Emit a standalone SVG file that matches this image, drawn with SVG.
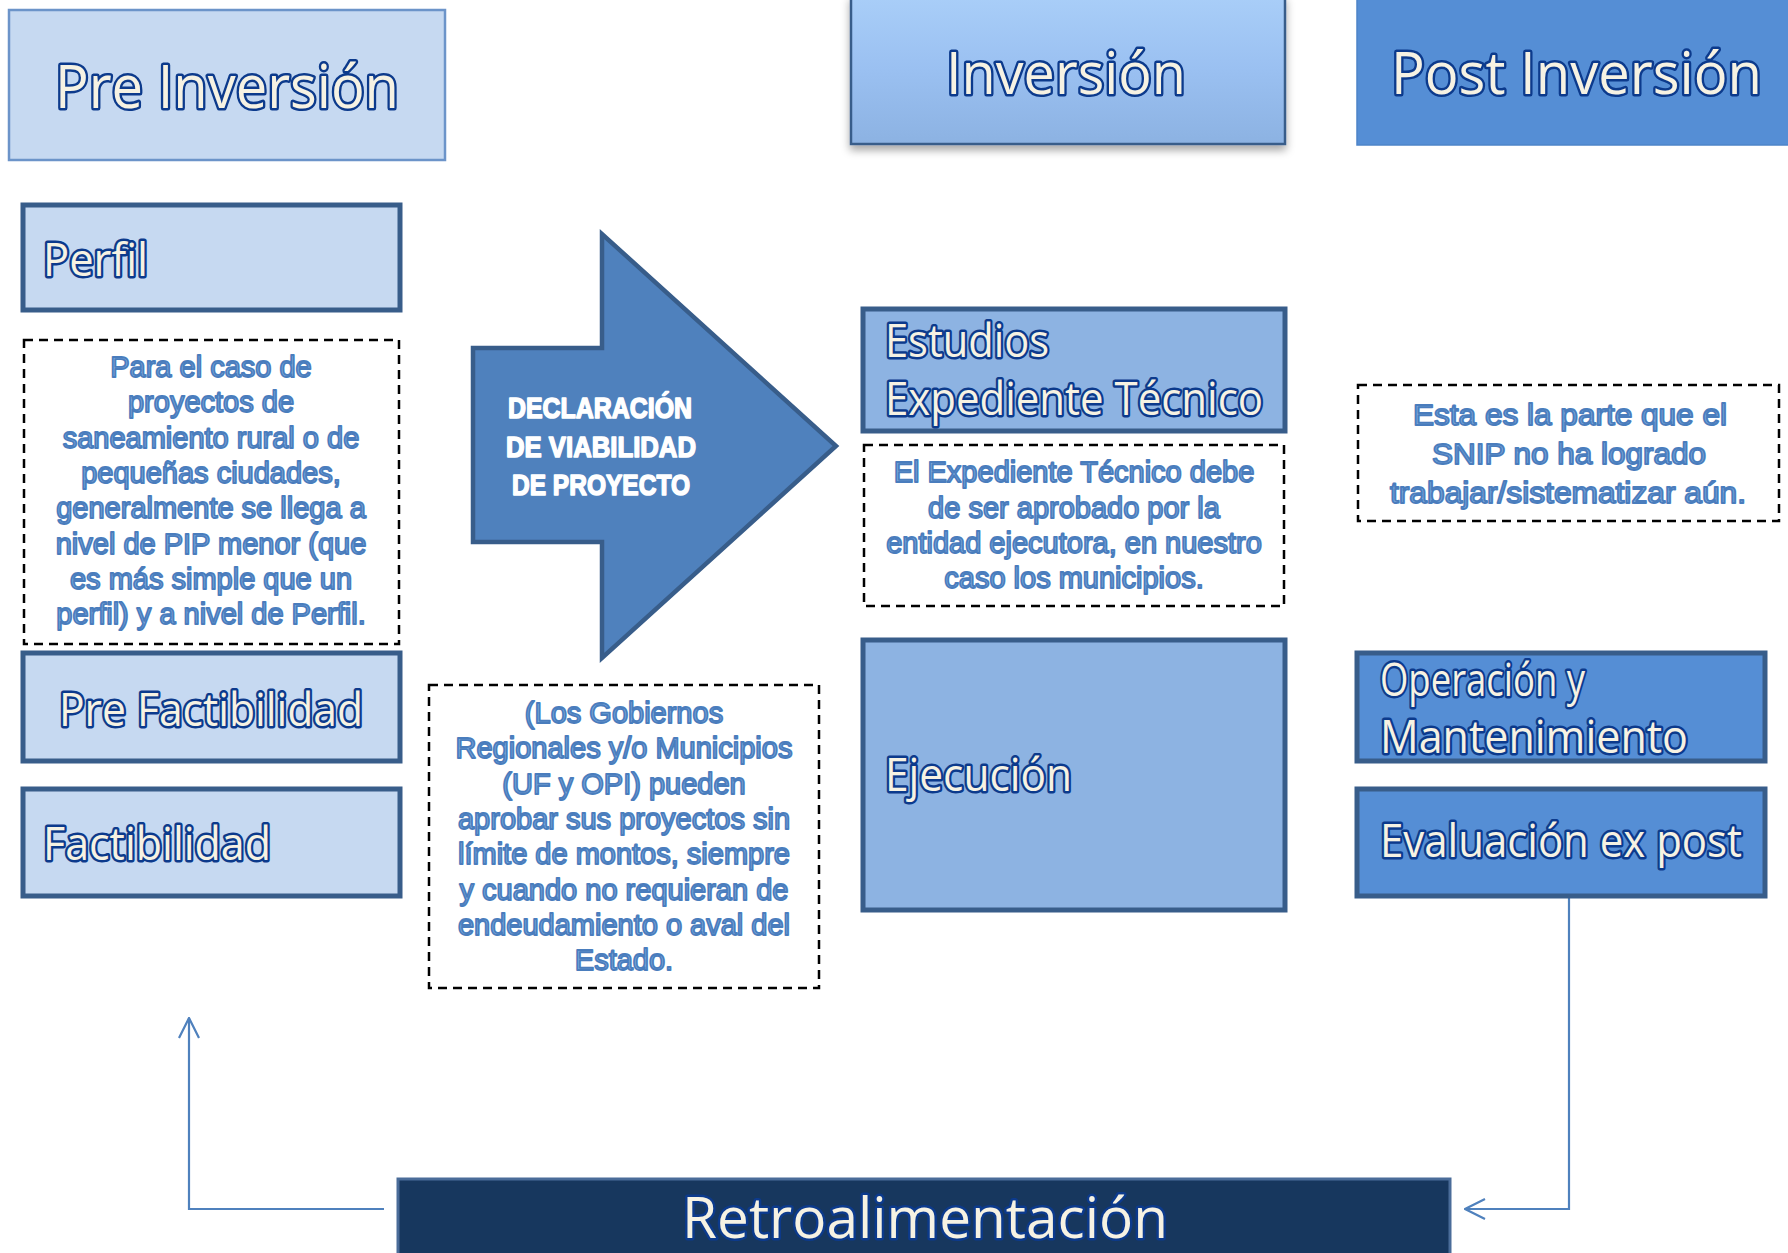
<svg xmlns="http://www.w3.org/2000/svg" width="1788" height="1253" viewBox="0 0 1788 1253">
<style>
.t{font-family:"Open Sans","Noto Sans",sans-serif;font-weight:400;fill:#f6f2e3;stroke:#0c3a8c;stroke-width:5;paint-order:stroke;stroke-linejoin:round}
.n{font-family:"Liberation Sans",Arial,sans-serif;font-size:29px;fill:#82addf;stroke:#4a7dbd;stroke-width:1.8;text-anchor:middle;stroke-linejoin:round}
.dash{fill:none;stroke:#000;stroke-width:2.5;stroke-dasharray:9 6}
.lt{fill:#c6d9f1;stroke:#385d8a;stroke-width:5}
.md{fill:#8db3e2;stroke:#385d8a;stroke-width:5}
.dk{fill:#558ed5;stroke:#385d8a;stroke-width:5}
.conn{fill:none;stroke:#4f81bd;stroke-width:2.2}
.dec{font-family:"Liberation Sans",Arial,sans-serif;font-weight:700;font-size:30px;fill:#fff;stroke:#fff;stroke-width:1.6;text-anchor:middle;stroke-linejoin:round}
</style>
<defs>
<linearGradient id="gInv" x1="0" y1="0" x2="0" y2="1">
<stop offset="0" stop-color="#a9cef8"/>
<stop offset="0.5" stop-color="#9ac0f1"/>
<stop offset="1" stop-color="#8cb2e2"/>
</linearGradient>
<filter id="sh" x="-10%" y="-10%" width="120%" height="130%">
<feDropShadow dx="0" dy="5" stdDeviation="4" flood-color="#000" flood-opacity="0.35"/>
</filter>
<marker id="ah" viewBox="0 0 22 22" refX="21" refY="11" markerWidth="22" markerHeight="22" markerUnits="userSpaceOnUse" orient="auto">
<path d="M1,1 L21,11 L1,21" fill="none" stroke="#4f81bd" stroke-width="2.2"/>
</marker>
</defs>
<rect width="1788" height="1253" fill="#fff"/>

<g id="connectors">
<path class="conn" d="M384,1209 H189 V1018" marker-end="url(#ah)"/>
<path class="conn" d="M1569,897 V1209 H1465" marker-end="url(#ah)"/>
</g>

<g id="pre-inversion">
<rect x="9" y="10" width="436" height="150" fill="#c6d9f1" stroke="#6c94c9" stroke-width="2.5"/>
<text class="t" x="55" y="108" font-size="60" textLength="344" lengthAdjust="spacingAndGlyphs">Pre Inversión</text>
</g>

<g id="inversion">
<rect x="851" y="-4" width="434" height="148" fill="url(#gInv)" stroke="#385d8a" stroke-width="2.5" filter="url(#sh)"/>
<text class="t" x="946" y="94" font-size="59" textLength="240" lengthAdjust="spacingAndGlyphs">Inversión</text>
</g>

<g id="post-inversion">
<rect x="1357" y="-4" width="440" height="149" fill="#558ed5" stroke="#4d84c8" stroke-width="1.5"/>
<text class="t" x="1391" y="94" font-size="59" textLength="371" lengthAdjust="spacingAndGlyphs">Post Inversión</text>
</g>

<g id="perfil">
<rect class="lt" x="23" y="205" width="377" height="105"/>
<text class="t" x="43" y="276" font-size="46" textLength="105" lengthAdjust="spacingAndGlyphs">Perfil</text>
</g>

<g id="nota-perfil">
<rect class="dash" x="24" y="340" width="375" height="304"/>
<text class="n" x="211" y="377">Para el caso de</text>
<text class="n" x="211" y="412">proyectos de</text>
<text class="n" x="211" y="448">saneamiento rural o de</text>
<text class="n" x="211" y="483">pequeñas ciudades,</text>
<text class="n" x="211" y="518">generalmente se llega a</text>
<text class="n" x="211" y="554">nivel de PIP menor (que</text>
<text class="n" x="211" y="589">es más simple que un</text>
<text class="n" x="211" y="624">perfil) y a nivel de Perfil.</text>
</g>

<g id="pre-factibilidad">
<rect class="lt" x="23" y="653" width="377" height="108"/>
<text class="t" x="59" y="726" font-size="46" textLength="304" lengthAdjust="spacingAndGlyphs">Pre Factibilidad</text>
</g>

<g id="factibilidad">
<rect class="lt" x="23" y="789" width="377" height="107"/>
<text class="t" x="43" y="860" font-size="46" textLength="228" lengthAdjust="spacingAndGlyphs">Factibilidad</text>
</g>

<g id="declaracion">
<polygon points="473,348 602,348 602,234 836,446 602,658 602,542 473,542" fill="#4f81bd" stroke="#385d8a" stroke-width="4.5"/>
<text class="dec" x="600" y="418" textLength="184" lengthAdjust="spacingAndGlyphs">DECLARACIÓN</text>
<text class="dec" x="601" y="457" textLength="190" lengthAdjust="spacingAndGlyphs">DE VIABILIDAD</text>
<text class="dec" x="601" y="495" textLength="178" lengthAdjust="spacingAndGlyphs">DE PROYECTO</text>
</g>

<g id="nota-gobiernos">
<rect class="dash" x="429" y="685" width="390" height="303"/>
<text class="n" x="624" y="723">(Los Gobiernos</text>
<text class="n" x="624" y="758">Regionales y/o Municipios</text>
<text class="n" x="624" y="794">(UF y OPI) pueden</text>
<text class="n" x="624" y="829">aprobar sus proyectos sin</text>
<text class="n" x="624" y="864">límite de montos, siempre</text>
<text class="n" x="624" y="900">y cuando no requieran de</text>
<text class="n" x="624" y="935">endeudamiento o aval del</text>
<text class="n" x="624" y="970">Estado.</text>
</g>

<g id="estudios">
<rect class="md" x="863" y="309" width="422" height="122"/>
<text class="t" x="885" y="357" font-size="46" textLength="164" lengthAdjust="spacingAndGlyphs">Estudios</text>
<text class="t" x="885" y="415" font-size="46" textLength="378" lengthAdjust="spacingAndGlyphs">Expediente Técnico</text>
</g>

<g id="nota-expediente">
<rect class="dash" x="864" y="445" width="420" height="161"/>
<text class="n" x="1074" y="482">El Expediente Técnico debe</text>
<text class="n" x="1074" y="518">de ser aprobado por la</text>
<text class="n" x="1074" y="553">entidad ejecutora, en nuestro</text>
<text class="n" x="1074" y="588">caso los municipios.</text>
</g>

<g id="ejecucion">
<rect class="md" x="863" y="640" width="422" height="270"/>
<text class="t" x="885" y="791" font-size="46" textLength="187" lengthAdjust="spacingAndGlyphs">Ejecución</text>
</g>

<g id="nota-snip">
<rect class="dash" x="1358" y="385" width="421" height="136"/>
<text class="n" x="1570" y="425" font-size="32" textLength="314" lengthAdjust="spacingAndGlyphs">Esta es la parte que el</text>
<text class="n" x="1569" y="464" font-size="32" textLength="274" lengthAdjust="spacingAndGlyphs">SNIP no ha logrado</text>
<text class="n" x="1568" y="503" font-size="32" textLength="356" lengthAdjust="spacingAndGlyphs">trabajar/sistematizar aún.</text>
</g>

<g id="operacion">
<rect class="dk" x="1357" y="653" width="408" height="108"/>
<text class="t" x="1380" y="696" font-size="46" textLength="205" lengthAdjust="spacingAndGlyphs">Operación y</text>
<text class="t" x="1380" y="753" font-size="46" textLength="308" lengthAdjust="spacingAndGlyphs">Mantenimiento</text>
</g>

<g id="evaluacion">
<rect class="dk" x="1357" y="789" width="408" height="107"/>
<text class="t" x="1380" y="857" font-size="46" textLength="362" lengthAdjust="spacingAndGlyphs">Evaluación ex post</text>
</g>

<g id="retroalimentacion">
<rect x="398" y="1179" width="1052" height="80" fill="#17375e" stroke="#4a6c99" stroke-width="3"/>
<text class="t" x="682" y="1238" font-size="57" textLength="486" lengthAdjust="spacingAndGlyphs">Retroalimentación</text>
</g>
</svg>
